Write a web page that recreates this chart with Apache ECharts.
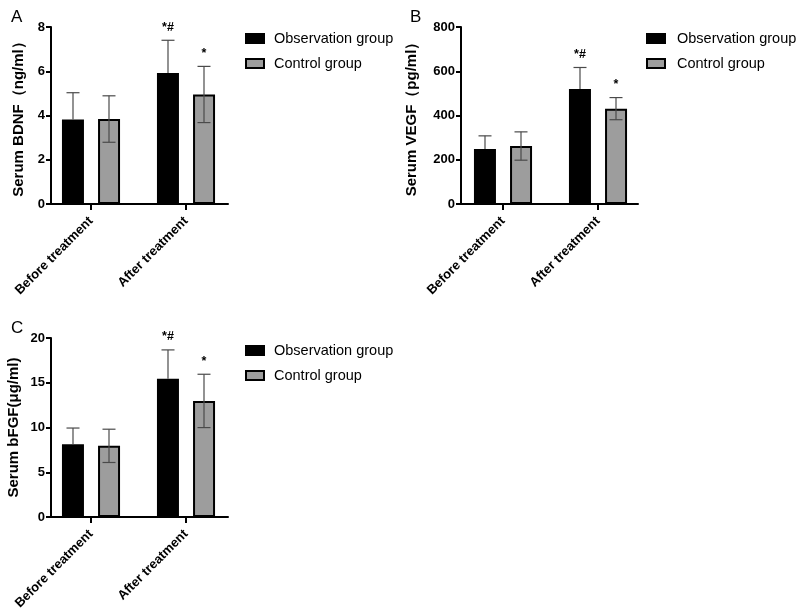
<!DOCTYPE html>
<html><head><meta charset="utf-8">
<script src="https://cdn.jsdelivr.net/npm/echarts@6/dist/echarts.min.js"></script>
<style>html,body{margin:0;padding:0;background:#fff}#c{width:800px;height:616px}</style>
</head><body><div id="c"></div>
<script>
// ---------- data ----------
const categories = ['Before treatment', 'After treatment'];
const seriesNames = ['Observation group', 'Control group'];

// Panel A: Serum BDNF (ng/ml)
const bdnfObs = [3.82, 5.92];
const bdnfObsSD = [1.21, 1.48];
const bdnfCtrl = [3.84, 4.95];
const bdnfCtrlSD = [1.05, 1.27];
const bdnfTicks = [0, 2, 4, 6, 8];

// Panel B: Serum VEGF (pg/ml)
const vegfObs = [249, 520];
const vegfObsSD = [59, 97];
const vegfCtrl = [262, 431];
const vegfCtrlSD = [64, 50];
const vegfTicks = [0, 200, 400, 600, 800];

// Panel C: Serum bFGF (μg/ml)
const bfgfObs = [8.12, 15.45];
const bfgfObsSD = [1.82, 3.22];
const bfgfCtrl = [7.95, 12.97];
const bfgfCtrlSD = [1.86, 2.98];
const bfgfTicks = [0, 5, 10, 15, 20];

const obsMarks = ['', '*#'];
const ctrlMarks = ['', '*'];

// ---------- layout / style ----------
const FONT = '"Liberation Sans", Arial, Helvetica, sans-serif';
const OBS_COLOR = '#000000';
const CTRL_COLOR = '#9d9d9d';
const BAR_W = 22;
const BAR_GAP = '64%';
const BAR_OFFSET = 18;   // half of centre-to-centre distance inside a group
const CAP = 6.5;

const panels = [
  {letter: 'A', name: 'Serum BDNF（ng/ml）', ticks: bdnfTicks,
   obs: bdnfObs, obsSD: bdnfObsSD, ctrl: bdnfCtrl, ctrlSD: bdnfCtrlSD,
   L: {barLeft: 43.5, lineLeft: 51, top: 27, height: 177, nameGap: 25, letter: [6, 4], legend: [240, 26], textPad: 5}},
  {letter: 'B', name: 'Serum VEGF（pg/ml）', ticks: vegfTicks,
   obs: vegfObs, obsSD: vegfObsSD, ctrl: vegfCtrl, ctrlSD: vegfCtrlSD,
   L: {barLeft: 455.5, lineLeft: 461, top: 27, height: 177, nameGap: 42, letter: [405, 4], legend: [641, 26], textPad: 7}},
  {letter: 'C', name: 'Serum bFGF(μg/ml)', ticks: bfgfTicks,
   obs: bfgfObs, obsSD: bfgfObsSD, ctrl: bfgfCtrl, ctrlSD: bfgfCtrlSD,
   L: {barLeft: 43.5, lineLeft: 51, top: 338, height: 179, nameGap: 30, letter: [6, 315], legend: [240, 338], textPad: 5}}
];

function errRender(means, sds, marks, offset, lower) {
  return function (params, api) {
    const i = params.dataIndex;
    const m = means[i], s = sds[i];
    const pTop = api.coord([i, m + s]);
    const pMid = api.coord([i, m]);
    const pLow = api.coord([i, m - s]);
    const x = pTop[0] + offset;
    const st = {stroke: '#4a4a4a', lineWidth: 1.2};
    const children = [
      {type: 'line', shape: {x1: x, y1: lower ? pLow[1] : pMid[1], x2: x, y2: pTop[1]}, style: st},
      {type: 'line', shape: {x1: x - CAP, y1: pTop[1], x2: x + CAP, y2: pTop[1]}, style: st}
    ];
    if (lower) children.push({type: 'line', shape: {x1: x - CAP, y1: pLow[1], x2: x + CAP, y2: pLow[1]}, style: st});
    if (marks[i]) children.push({type: 'text', x: x, y: pTop[1] - 13,
      style: {text: marks[i], fill: '#000', fontSize: 12.5, fontWeight: 'bold', fontFamily: FONT, align: 'center', verticalAlign: 'middle'}});
    return {type: 'group', children: children};
  };
}

const option = {animation: false, backgroundColor: '#fff', title: [], legend: [], grid: [], xAxis: [], yAxis: [], series: []};

panels.forEach(function (p, k) {
  const L = p.L;
  const gBar = 2 * k, gLine = 2 * k + 1;
  option.title.push({text: p.letter, left: L.letter[0], top: L.letter[1],
    textStyle: {fontSize: 17, fontWeight: 'normal', color: '#000', fontFamily: FONT}});
  option.legend.push({data: seriesNames, orient: 'vertical', left: L.legend[0], top: L.legend[1],
    itemWidth: 18, itemHeight: 9, itemGap: 10, icon: 'rect', selectedMode: false,
    textStyle: {fontSize: 14.5, color: '#000', fontFamily: FONT, padding: [0, 0, 0, L.textPad]}});
  option.grid.push({left: L.barLeft, top: L.top, width: 190, height: L.height});
  option.grid.push({left: L.lineLeft, top: L.top, width: 177, height: L.height});
  option.xAxis.push({type: 'category', gridIndex: gBar, data: categories,
    axisLine: {show: false},
    axisTick: {show: true, alignWithLabel: true, length: 6, lineStyle: {color: '#000', width: 2}},
    axisLabel: {rotate: 45, interval: 0, margin: 15, color: '#000', fontSize: 13, fontWeight: 'bold', fontFamily: FONT},
    splitLine: {show: false}});
  option.xAxis.push({type: 'value', gridIndex: gLine, min: 0, max: 1,
    axisLine: {show: true, onZero: false, lineStyle: {color: '#000', width: 2}},
    axisTick: {show: false}, axisLabel: {show: false}, splitLine: {show: false}});
  const t = p.ticks;
  option.yAxis.push({type: 'value', gridIndex: gBar, min: t[0], max: t[t.length - 1], interval: t[1] - t[0],
    offset: L.barLeft - L.lineLeft,
    name: p.name, nameLocation: 'middle', nameGap: L.nameGap, nameRotate: 90,
    nameTextStyle: {fontSize: 15, fontWeight: 'bold', color: '#000', fontFamily: FONT},
    axisLine: {show: true, onZero: false, lineStyle: {color: '#000', width: 2}},
    axisTick: {show: true, length: 5, lineStyle: {color: '#000', width: 2}},
    axisLabel: {margin: 6, color: '#000', fontSize: 13, fontWeight: 'bold', fontFamily: FONT},
    splitLine: {show: false}});
  option.yAxis.push({type: 'value', gridIndex: gLine, min: 0, max: 1, show: false});
  const xi = 2 * k, yi = 2 * k;
  option.series.push({type: 'bar', name: seriesNames[0], xAxisIndex: xi, yAxisIndex: yi, data: p.obs,
    barWidth: BAR_W, barGap: BAR_GAP, itemStyle: {color: OBS_COLOR, borderColor: '#000', borderWidth: 2}});
  option.series.push({type: 'bar', name: seriesNames[1], xAxisIndex: xi, yAxisIndex: yi, data: p.ctrl,
    barWidth: BAR_W, barGap: BAR_GAP, itemStyle: {color: CTRL_COLOR, borderColor: '#000', borderWidth: 2}});
  option.series.push({type: 'custom', name: 'err-obs-' + k, xAxisIndex: xi, yAxisIndex: yi, z: 5,
    data: p.obs.map(function (v, i) { return [i, v + p.obsSD[i]]; }),
    renderItem: errRender(p.obs, p.obsSD, obsMarks, -BAR_OFFSET, false)});
  option.series.push({type: 'custom', name: 'err-ctrl-' + k, xAxisIndex: xi, yAxisIndex: yi, z: 5,
    data: p.ctrl.map(function (v, i) { return [i, v + p.ctrlSD[i]]; }),
    renderItem: errRender(p.ctrl, p.ctrlSD, ctrlMarks, BAR_OFFSET, true)});
});

const chart = echarts.init(document.getElementById('c'), null, {renderer: 'canvas'});
chart.setOption(option);
</script></body></html>
